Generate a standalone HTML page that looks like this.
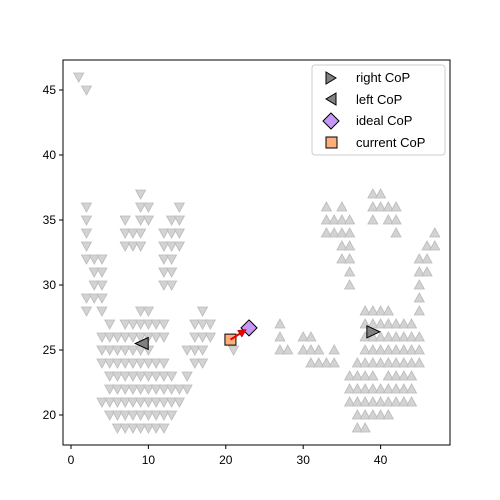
<!DOCTYPE html>
<html><head><meta charset="utf-8"><style>body{margin:0;background:#fff}svg{display:block;font-family:"Liberation Sans",sans-serif}</style></head>
<body>
<svg id="c" width="500" height="500" viewBox="0 0 500 500" xmlns="http://www.w3.org/2000/svg">
<rect x="63" y="60" width="387" height="385" fill="#fff" stroke="#000" stroke-width="1"/>
<g id="pts"></g><g id="axes"></g><g id="marks"></g>
<g>
<rect x="312" y="65" width="133" height="90" rx="3" fill="#fff" fill-opacity="0.8" stroke="#ccc"/>
<g><polygon points="326,72 336,78 326,84" fill="#808080" stroke="#000"/><text x="356" y="82" font-size="13">right CoP</text></g>
<g><polygon points="336,93 326,99 336,105" fill="#808080" stroke="#000"/><text x="356" y="104" font-size="13">left CoP</text></g>
<g><polygon points="331,113 339,121 331,129 323,121" fill="#c797f8" stroke="#000"/><text x="356" y="125" font-size="13">ideal CoP</text></g>
<g><rect x="326" y="137" width="11" height="11" fill="#fdae7b" stroke="#000"/><text x="356" y="147" font-size="13">current CoP</text></g>
</g>
</svg>
<script>
const xTicks=[0,10,20,30,40];
const yTicks=[20,25,30,35,40,45];
// left foot rows: [y, xs]
const leftRows=[[46,[1]],[45,[2]],[37,[9]],[36,[2,9,10,14]],[35,[2,7,9,10,13,14]],[34,[2,7,8,9,12,13,14]],[33,[2,7,8,9,12,13,14]],[32,[2,3,4,12,13]],[31,[3,4,12,13]],[30,[3,4,12,13]],[29,[2,3,4]],[28,[2,4,9,10,17]],[27,[5,7,8,9,10,11,12,16,17,18]],[26,[4,5,6,7,8,9,10,11,12,16,17,18]],[25,[4,5,6,7,8,9,10,15,16,17,21]],[24,[4,5,6,7,8,9,10,11,12,16,17]],[23,[5,6,7,8,9,10,11,12,13,15]],[22,[5,6,7,8,9,10,11,12,13,14,15]],[21,[4,5,6,7,8,9,10,11,12,13,14]],[20,[5,6,7,8,9,10,11,12,13]],[19,[6,7,8,9,10,11,12]]];
const rightRows=[[37,[39,40]],[36,[33,35,39,40,41,42]],[35,[33,34,35,36,39,41,42]],[34,[33,34,35,36,42,47]],[33,[35,36,46,47]],[32,[35,36,45,46]],[31,[36,45,46]],[30,[36,45]],[29,[45]],[28,[38,39,40,41,45]],[27,[27,38,39,40,41,42,43,44]],[26,[27,30,31,38,39,40,41,42,43,44,45]],[25,[27,28,30,31,32,34,38,39,40,41,42,43,44,45]],[24,[31,32,33,34,37,38,39,40,41,42,43,44,45]],[23,[36,37,38,39,41,42,43,44]],[22,[36,37,38,39,40,41,42,43,44]],[21,[36,37,38,39,40,41,42,43,44]],[20,[37,38,39,40,41]],[19,[37,38]]];
const rightCoP=[39,26.4],leftCoP=[9.2,25.5],idealCoP=[23,26.7],currentCoP=[20.6,25.8];
const X=v=>71+v*7.74, Y=v=>350-(v-25)*13;
const NS="http://www.w3.org/2000/svg";
function mk(t,a,p){const e=document.createElementNS(NS,t);for(const k in a)e.setAttribute(k,a[k]);p.appendChild(e);return e;}
const pts=document.getElementById('pts'),axes=document.getElementById('axes'),marks=document.getElementById('marks');
leftRows.forEach(([y,xs])=>xs.forEach(x=>{const cx=X(x),cy=Y(y);
const p=mk('polygon',{points:`${cx-5},${cy-4} ${cx+5},${cy-4} ${cx},${cy+5}`,fill:'#d3d3d3',stroke:'#bbb','stroke-width':0.8},pts);

}));
rightRows.forEach(([y,xs])=>xs.forEach(x=>{const cx=X(x),cy=Y(y);
const p=mk('polygon',{points:`${cx-5},${cy+4} ${cx+5},${cy+4} ${cx},${cy-5}`,fill:'#d3d3d3',stroke:'#bbb','stroke-width':0.8},pts);

}));
xTicks.forEach(t=>{const x=X(t);mk('line',{x1:x,x2:x,y1:445,y2:449,stroke:'#000'},axes);
const tx=mk('text',{x:x,y:464,'font-size':12,'text-anchor':'middle'},axes);tx.textContent=t;

});
yTicks.forEach(t=>{const y=Y(t);mk('line',{x1:59,x2:63,y1:y,y2:y,stroke:'#000'},axes);
const tx=mk('text',{x:56,y:y+4,'font-size':12,'text-anchor':'end'},axes);tx.textContent=t;

});
let cx=X(rightCoP[0]),cy=Y(rightCoP[1]);
let m=mk('polygon',{points:`${cx-6},${cy-6} ${cx+7},${cy} ${cx-6},${cy+6}`,fill:'#808080',stroke:'#000'},marks);


cx=X(leftCoP[0]);cy=Y(leftCoP[1]);
m=mk('polygon',{points:`${cx+6},${cy-6} ${cx-7},${cy} ${cx+6},${cy+6}`,fill:'#808080',stroke:'#000'},marks);


cx=X(currentCoP[0]);cy=Y(currentCoP[1]);
m=mk('rect',{x:cx-5.5,y:cy-5.5,width:11,height:11,fill:'#fdae7b',stroke:'#000'},marks);


const ix=X(idealCoP[0]),iy=Y(idealCoP[1]);
m=mk('polygon',{points:`${ix},${iy-8} ${ix+8},${iy} ${ix},${iy+8} ${ix-8},${iy}`,fill:'#c797f8',stroke:'#000'},marks);


const ang=Math.atan2(iy-cy,ix-cx),ex=ix-3*Math.cos(ang),ey=iy-3*Math.sin(ang);
m=mk('line',{x1:cx,y1:cy,x2:ex-6*Math.cos(ang),y2:ey-6*Math.sin(ang),stroke:'#e00','stroke-width':2},marks);


const px=-Math.sin(ang),py=Math.cos(ang),bx=ex-8*Math.cos(ang),by=ey-8*Math.sin(ang);
m=mk('polygon',{points:`${ex},${ey} ${bx+4*px},${by+4*py} ${bx-4*px},${by-4*py}`,fill:'#e00',stroke:'#800','stroke-width':0.5},marks);


</script>
</body></html>
